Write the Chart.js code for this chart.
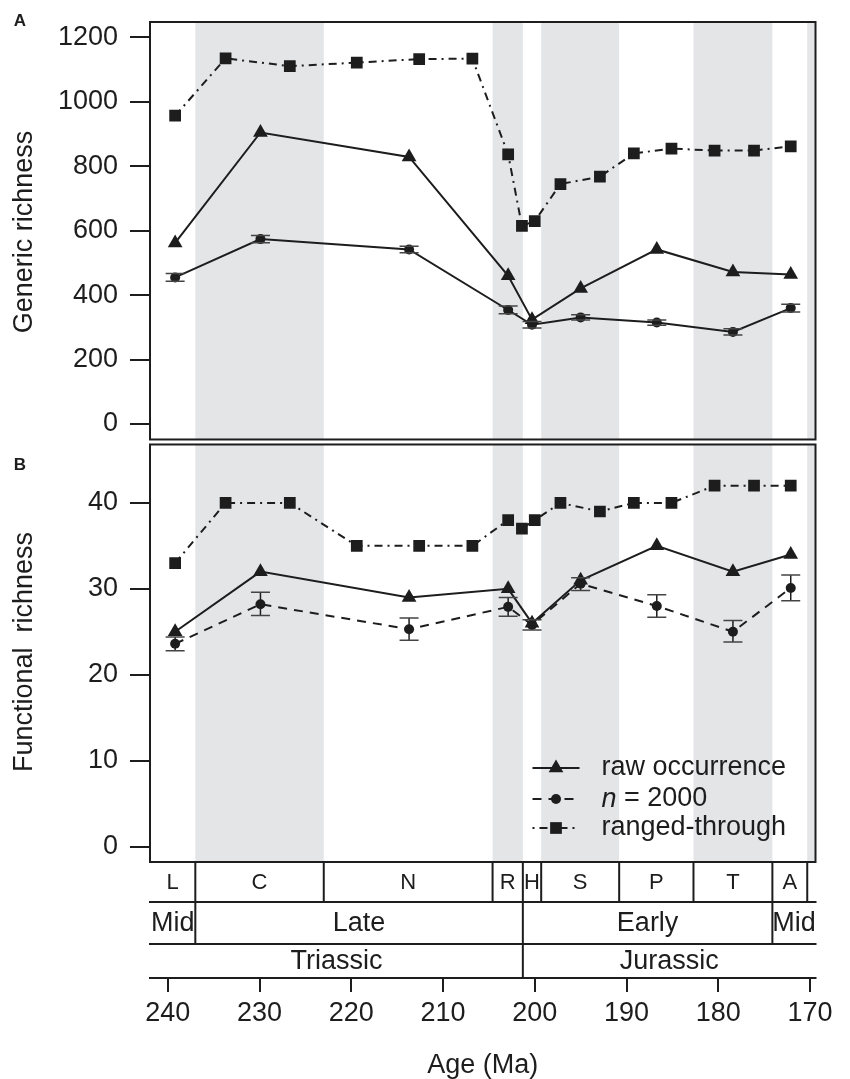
<!DOCTYPE html>
<html>
<head>
<meta charset="utf-8">
<title>Generic and functional richness</title>
<script src="https://cdn.jsdelivr.net/npm/chart.js@4.4.1/dist/chart.umd.min.js"></script>
<style>
  html, body { margin: 0; padding: 0; background: #fff; }
  #wrap { width: 850px; height: 1079px; }
</style>
</head>
<body>
<div id="wrap"><canvas id="richness" width="850" height="1079"></canvas></div>
<script>
// sample ages (Ma)
var rawAges = [239.2, 229.9, 213.7, 202.9, 200.3, 195.0, 186.7, 178.4, 172.1];
var rangedAges = [239.2, 233.7, 226.7, 219.4, 212.6, 206.8, 202.9, 201.4, 200.0, 197.2, 192.9, 189.2, 185.1, 180.4, 176.1, 172.1];

// panel A - generic richness
var genericRaw = [562, 905, 829, 460, 324, 421, 542, 472, 464];
var genericN2000 = [455, 574, 542, 354, 308, 331, 315, 286, 360];
var genericN2000Low = [443, 563, 532, 342, 298, 323, 307, 276, 348];
var genericN2000High = [467, 585, 552, 366, 318, 339, 323, 296, 372];
var genericRanged = [957, 1135, 1111, 1122, 1133, 1134, 837, 615, 630, 745, 768, 840, 855, 849, 849, 862];

// panel B - functional richness
var functionalRaw = [25, 32, 29, 30, 26, 31, 35, 32, 34];
var functionalN2000 = [23.6, 28.2, 25.3, 27.9, 25.8, 30.6, 28.0, 25.0, 30.1];
var functionalN2000Low = [22.8, 26.9, 24.0, 26.8, 25.2, 29.8, 26.7, 23.8, 28.6];
var functionalN2000High = [24.4, 29.6, 26.6, 29.0, 26.4, 31.3, 29.3, 26.3, 31.6];
var functionalRanged = [33, 40, 40, 35, 35, 35, 38, 37, 38, 40, 39, 40, 40, 42, 42, 42];

// ticks and limits
var ageTicks = [240, 230, 220, 210, 200, 190, 180, 170];
var ageLimits = [169.4, 241.94];
var genericTicks = [0, 200, 400, 600, 800, 1000, 1200];
var genericLimits = [-48, 1248];
var functionalTicks = [0, 10, 20, 30, 40];
var functionalLimits = [-1.8, 46.8];

// geological time scale (boundaries in Ma, oldest first)
var stageNames = ['L', 'C', 'N', 'R', 'H', 'S', 'P', 'T', 'A', ''];
var stageBounds = [242, 237, 223, 204.6, 201.3, 199.3, 190.8, 182.7, 174.1, 170.3, 168.3];
var epochNames = ['Mid', 'Late', 'Early', 'Mid'];
var epochBounds = [247.2, 237, 201.3, 174.1, 163.5];
var periodNames = ['Triassic', 'Jurassic'];
var periodBounds = [251.9, 201.3, 145];

var legendNames = ['raw occurrence', 'n = 2000', 'ranged-through'];

var FONT = '"Liberation Sans", Arial, Helvetica, sans-serif';
var INK = '#1d1d1d';
var SHADE = '#e4e5e7';

function pts(ages, vals) {
    return ages.map(function(a, i) { return {x: a, y: vals[i]}; });
}

function panelRects(chart) {
    var yA = chart.scales.yA, yB = chart.scales.yB;
    return [
        {top: yA.getPixelForValue(genericLimits[1]), bottom: yA.getPixelForValue(genericLimits[0])},
        {top: yB.getPixelForValue(functionalLimits[1]), bottom: yB.getPixelForValue(functionalLimits[0])}
    ];
}

function marker(ctx, style, x, y, r) {
    ctx.beginPath();
    if (style === 'triangle') {
        ctx.moveTo(x, y - r);
        ctx.lineTo(x + r * 0.866, y + r / 2);
        ctx.lineTo(x - r * 0.866, y + r / 2);
        ctx.closePath();
    } else if (style === 'rect') {
        var s = r * Math.SQRT1_2;
        ctx.rect(x - s, y - s, 2 * s, 2 * s);
    } else {
        ctx.arc(x, y, r, 0, Math.PI * 2);
    }
    ctx.fill();
}

var richnessPlugin = {
    id: 'richness',
    beforeDatasetsDraw: function(chart) {
        var ctx = chart.ctx, area = chart.chartArea, xs = chart.scales.x;
        ctx.save();
        ctx.fillStyle = SHADE;
        panelRects(chart).forEach(function(p) {
            for (var i = 1; i < stageNames.length; i += 2) {
                var x0 = Math.max(area.left, xs.getPixelForValue(stageBounds[i]));
                var x1 = Math.min(area.right, xs.getPixelForValue(stageBounds[i + 1]));
                if (x1 > x0) ctx.fillRect(x0, p.top, x1 - x0, p.bottom - p.top);
            }
        });
        ctx.restore();
    },
    afterDatasetsDraw: function(chart) {
        var ctx = chart.ctx, area = chart.chartArea;
        ctx.save();
        // error bars
        chart.data.datasets.forEach(function(ds) {
            if (!ds.errLow) return;
            var ys = chart.scales[ds.yAxisID], xs = chart.scales.x;
            ds.data.forEach(function(p, i) {
                var px = xs.getPixelForValue(p.x);
                var lo = ys.getPixelForValue(ds.errLow[i]);
                var hi = ys.getPixelForValue(ds.errHigh[i]);
                ctx.strokeStyle = INK;
                ctx.lineWidth = 1.5;
                ctx.setLineDash([]);
                ctx.beginPath();
                ctx.moveTo(px, lo); ctx.lineTo(px, hi);
                ctx.stroke();
                ctx.strokeStyle = '#444';
                ctx.beginPath();
                ctx.moveTo(px - 9.5, lo); ctx.lineTo(px + 9.5, lo);
                ctx.moveTo(px - 9.5, hi); ctx.lineTo(px + 9.5, hi);
                ctx.stroke();
            });
        });
        // panel boxes
        ctx.strokeStyle = INK;
        ctx.lineWidth = 2;
        panelRects(chart).forEach(function(p) {
            ctx.strokeRect(area.left, p.top, area.right - area.left, p.bottom - p.top);
        });
        ctx.restore();
    },
    afterDraw: function(chart) {
        var ctx = chart.ctx, area = chart.chartArea, xs = chart.scales.x;
        var L = area.left, R = area.right, B = panelRects(chart)[1].bottom;
        ctx.save();

        // time scale rows under panel B
        var rows = [
            {names: stageNames, bounds: stageBounds, y0: B, y1: B + 40, size: 22},
            {names: epochNames, bounds: epochBounds, y0: B + 40, y1: B + 82, size: 27},
            {names: periodNames, bounds: periodBounds, y0: B + 82, y1: B + 116, size: 27}
        ];
        ctx.fillStyle = '#fff';
        ctx.fillRect(L - 2, B + 1, R - L + 4, 115);
        ctx.strokeStyle = INK;
        ctx.lineWidth = 2;
        rows.forEach(function(row) {
            ctx.beginPath();
            ctx.moveTo(L - 1, row.y1); ctx.lineTo(R + 1, row.y1);
            for (var i = 1; i < row.bounds.length - 1; i++) {
                var bx = xs.getPixelForValue(row.bounds[i]);
                if (bx > L && bx < R) {
                    ctx.moveTo(bx, row.y0); ctx.lineTo(bx, row.y1);
                }
            }
            ctx.stroke();
            ctx.fillStyle = INK;
            ctx.font = row.size + 'px ' + FONT;
            ctx.textAlign = 'center';
            ctx.textBaseline = 'middle';
            row.names.forEach(function(name, i) {
                var x0 = Math.max(L, xs.getPixelForValue(row.bounds[i]));
                var x1 = Math.min(R, xs.getPixelForValue(row.bounds[i + 1]));
                if (name && x1 > x0) ctx.fillText(name, (x0 + x1) / 2, (row.y0 + row.y1) / 2 + 1);
            });
        });

        // legend inside panel B
        var styles = chart.data.datasets.slice(3);
        var lx0 = R - 283, lx1 = R - 236, tx = R - 214;
        var rowsY = [B - 94, B - 63, B - 34];
        styles.forEach(function(ds, i) {
            var y = rowsY[i];
            ctx.strokeStyle = INK;
            ctx.lineWidth = 2;
            ctx.setLineDash(ds.borderDash || []);
            ctx.lineDashOffset = ds.legendDashOffset || 0;
            ctx.beginPath();
            ctx.moveTo(lx0, y); ctx.lineTo(lx1, y);
            ctx.stroke();
            ctx.setLineDash([]);
            ctx.fillStyle = INK;
            marker(ctx, ds.pointStyle, (lx0 + lx1) / 2, y, ds.pointRadius);
            ctx.textAlign = 'left';
            ctx.textBaseline = 'middle';
            if (i === 1) {
                ctx.font = 'italic 27px ' + FONT;
                ctx.fillText('n', tx, y);
                var w = ctx.measureText('n').width;
                ctx.font = '27px ' + FONT;
                ctx.fillText(legendNames[i].slice(1), tx + w, y);
            } else {
                ctx.font = '27px ' + FONT;
                ctx.fillText(legendNames[i], tx, y);
            }
        });

        // panel letters
        ctx.font = 'bold 17px ' + FONT;
        ctx.textAlign = 'center';
        ctx.textBaseline = 'middle';
        var panels = panelRects(chart);
        ctx.fillText('A', 20, panels[0].top - 1);
        ctx.fillText('B', 20, panels[1].top + 21);
        ctx.restore();
    }
};

function series(ages, vals, yAxis, style, dash) {
    var radius = {triangle: 8.5, circle: 5, rect: 8.3}[style];
    return {
        data: pts(ages, vals),
        yAxisID: yAxis,
        borderColor: INK,
        backgroundColor: INK,
        borderWidth: 2,
        borderDash: dash,
        pointStyle: style,
        pointRadius: radius,
        pointHoverRadius: radius,
        pointBackgroundColor: INK,
        pointBorderWidth: 0,
        tension: 0,
        fill: false
    };
}

var dsA1 = series(rawAges, genericRaw, 'yA', 'triangle', []);
var dsA2 = series(rawAges, genericN2000, 'yA', 'circle', []);
dsA2.errLow = genericN2000Low; dsA2.errHigh = genericN2000High;
var dsA3 = series(rangedAges, genericRanged, 'yA', 'rect', [8, 5, 2, 5]);

var dsB1 = series(rawAges, functionalRaw, 'yB', 'triangle', []);
var dsB2 = series(rawAges, functionalN2000, 'yB', 'circle', [9, 7]);
dsB2.errLow = functionalN2000Low; dsB2.errHigh = functionalN2000High;
dsB2.legendDashOffset = 0;
var dsB3 = series(rangedAges, functionalRanged, 'yB', 'rect', [8, 5, 2, 5]);
dsB3.legendDashOffset = 13;

var tickFont = {family: FONT, size: 27};
var titleFont = {family: FONT, size: 27, lineHeight: 1};

function plainTick(v) { return String(v); }
function fitLeftAxis(s) {
    s.width = 150;
    s.paddingTop = 0;
    s.paddingBottom = 0;
}

new Chart(document.getElementById('richness'), {
    type: 'line',
    data: {datasets: [dsA1, dsA2, dsA3, dsB1, dsB2, dsB3]},
    plugins: [richnessPlugin],
    options: {
        responsive: false,
        animation: false,
        devicePixelRatio: 1,
        layout: {padding: {top: 22, right: 34.5, bottom: 0, left: 0}},
        plugins: {legend: {display: false}, title: {display: false}, tooltip: {enabled: false}},
        scales: {
            x: {
                type: 'linear',
                position: 'bottom',
                reverse: true,
                min: ageLimits[0],
                max: ageLimits[1],
                afterBuildTicks: function(s) { s.ticks = ageTicks.map(function(v) { return {value: v}; }); },
                afterFit: function(s) { s.height = 217; },
                grid: {drawOnChartArea: false, tickLength: 130, color: INK, lineWidth: 2},
                border: {display: false},
                ticks: {font: tickFont, color: INK, padding: 5, maxRotation: 0, autoSkip: false, callback: plainTick},
                title: {display: true, text: 'Age (Ma)', font: titleFont, color: INK, padding: {top: 0, bottom: 0}}
            },
            yB: {
                type: 'linear',
                position: 'left',
                stack: 'panels',
                stackWeight: 1,
                weight: 1,
                min: functionalLimits[0],
                max: functionalLimits[1] + 0.29,
                afterBuildTicks: function(s) { s.ticks = functionalTicks.map(function(v) { return {value: v}; }); },
                afterFit: fitLeftAxis,
                grid: {drawOnChartArea: false, tickLength: 20, color: INK, lineWidth: 2},
                border: {display: false},
                ticks: {font: tickFont, color: INK, padding: 12, callback: plainTick},
                title: {display: true, text: 'Functional  richness', font: titleFont, color: INK, padding: {top: 11, bottom: 0}}
            },
            yA: {
                type: 'linear',
                position: 'left',
                stack: 'panels',
                stackWeight: 1,
                weight: 2,
                min: genericLimits[0] - 7.8,
                max: genericLimits[1],
                afterBuildTicks: function(s) { s.ticks = genericTicks.map(function(v) { return {value: v}; }); },
                afterFit: fitLeftAxis,
                grid: {drawOnChartArea: false, tickLength: 20, color: INK, lineWidth: 2},
                border: {display: false},
                ticks: {font: tickFont, color: INK, padding: 12, callback: plainTick},
                title: {display: true, text: 'Generic richness', font: titleFont, color: INK, padding: {top: 11, bottom: 0}}
            }
        }
    }
});
</script>
</body>
</html>
